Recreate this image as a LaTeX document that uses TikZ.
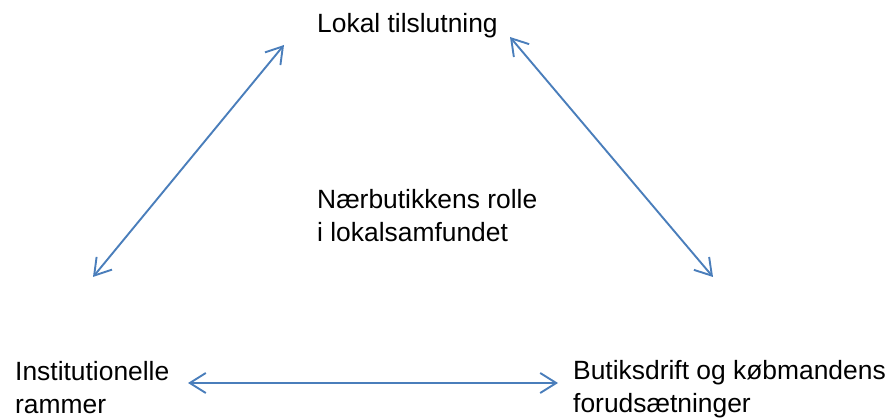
\documentclass[tikz,border=0pt]{standalone}
\usepackage{fontspec}
\setmainfont{Liberation Sans}
\usetikzlibrary{arrows.meta}
\definecolor{arrowblue}{RGB}{74,126,187}
\tikzset{
  lbl/.style={anchor=base west, inner sep=0pt, align=left, font=\fontsize{26.4}{33}\selectfont},
  dbl/.style={draw=arrowblue, line width=1.9pt, {Straight Barb[length=16pt,width=20pt,line width=1.9pt]}-{Straight Barb[length=16pt,width=20pt,line width=1.9pt]}}
}
\begin{document}
\begin{tikzpicture}[x=1pt,y=-1pt]
\useasboundingbox (0,0) rectangle (891,419);
\node[lbl] (top) at (317,33) {Lokal tilslutning};
\node[lbl] (mid) at (317,242) {Nærbutikkens rolle\\i lokalsamfundet};
\node[lbl] (left) at (15,413) {Institutionelle\\rammer};
\node[lbl] (right) at (573,412) {Butiksdrift og købmandens\\forudsætninger};
\coordinate (a1) at (93,277);
\coordinate (a2) at (284,45);
\coordinate (b1) at (510,37);
\coordinate (b2) at (713,277);
\coordinate (c1) at (188,383);
\coordinate (c2) at (558,383);
\draw[dbl] (a1) -- (a2);
\draw[dbl] (b1) -- (b2);
\draw[dbl] (c1) -- (c2);
\end{tikzpicture}
\end{document}
